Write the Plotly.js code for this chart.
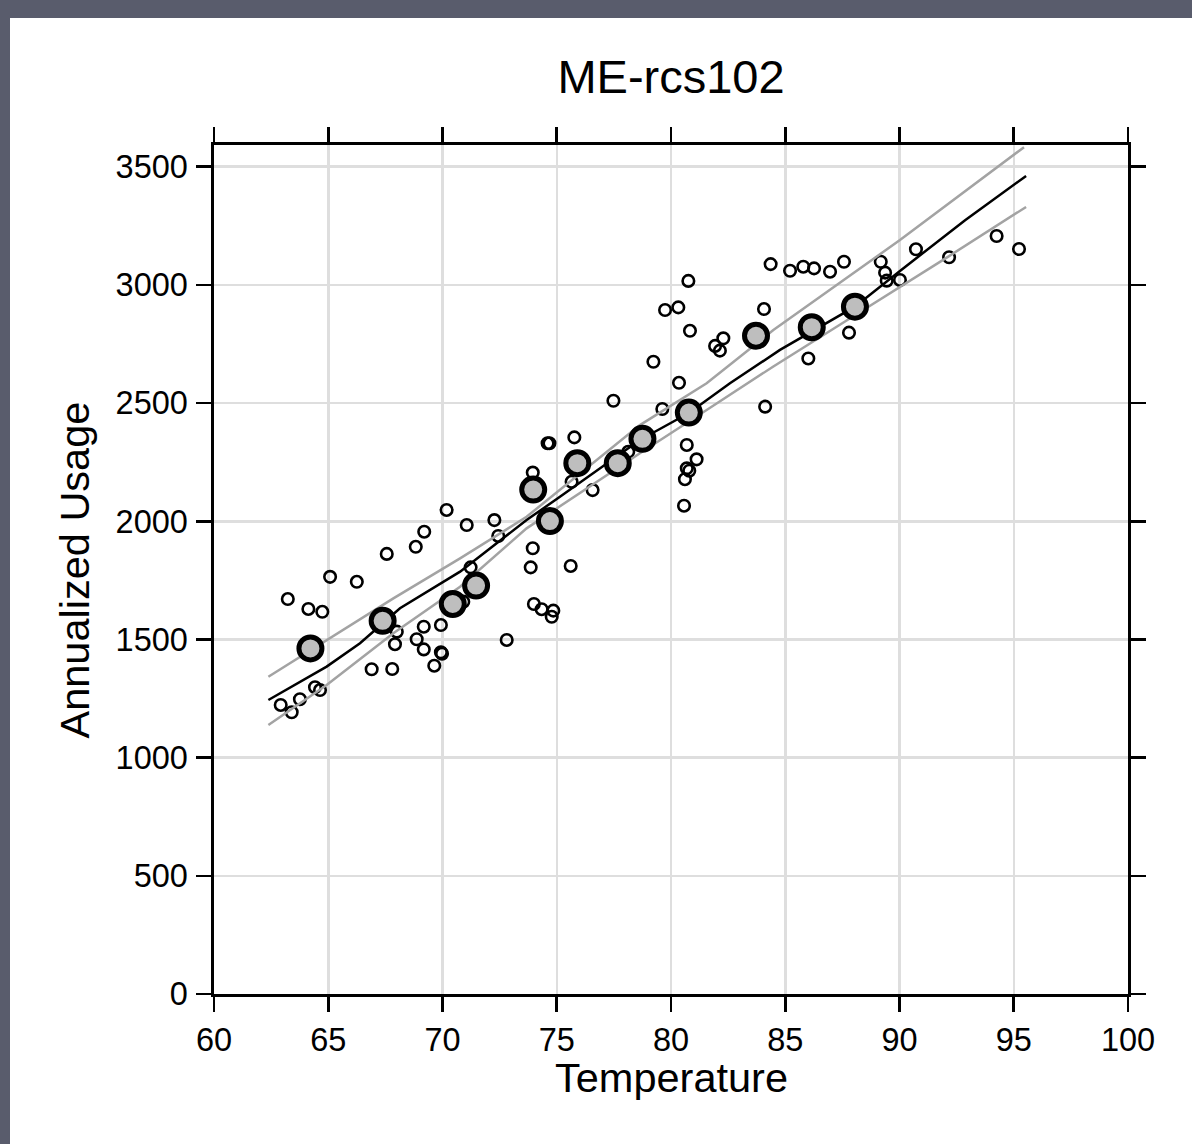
<!DOCTYPE html>
<html>
<head>
<meta charset="utf-8">
<script src="https://cdn.plot.ly/plotly-3.0.1.min.js"></script>
<style>
  html, body { margin: 0; padding: 0; background: #595c6c; width: 1192px; height: 1144px; overflow: hidden; }
  #chart { position: absolute; left: 10px; top: 18px; width: 1182px; height: 1126px; background: #ffffff; }
</style>
</head>
<body>
<div id="chart"></div>
<script>
// Observed (small open circles)
const obsTemp = [62.92, 63.40, 63.76, 64.42, 64.64, 63.23, 64.13, 64.74, 65.08, 66.25,
  67.56, 68.83, 69.20, 70.18, 71.06, 72.27, 72.44, 71.23, 70.91, 68.00,
  67.92, 66.90, 67.80, 69.18, 68.87, 69.18, 69.93, 69.93, 69.98, 69.64,
  72.81, 73.95, 73.86, 74.00, 74.34, 74.78, 74.85, 80.35, 77.48, 79.62,
  74.60, 74.68, 75.77, 78.13, 73.95, 75.65, 76.57, 75.61, 80.69, 81.12,
  80.69, 80.80, 80.61, 80.57, 80.76, 79.74, 80.32, 80.83, 81.93, 82.29,
  82.14, 79.23, 84.12, 84.07, 84.36, 85.21, 85.79, 86.26, 86.96, 87.57,
  89.18, 89.37, 89.44, 90.02, 90.72, 92.17, 94.25, 95.23, 87.79, 86.01];
const obsUsage = [1223, 1192, 1247, 1298, 1286, 1671, 1629, 1617, 1765, 1744,
  1862, 1892, 1956, 2048, 1984, 2005, 1938, 1805, 1660, 1533,
  1480, 1374, 1375, 1554, 1501, 1458, 1561, 1446, 1440, 1389,
  1498, 1886, 1805, 1650, 1628, 1596, 1622, 2586, 2510, 2475,
  2330, 2330, 2355, 2294, 2206, 2167, 2132, 1811, 2323, 2262,
  2224, 2214, 2178, 2066, 3017, 2894, 2905, 2806, 2742, 2774,
  2722, 2675, 2485, 2898, 3088, 3060, 3077, 3070, 3056, 3098,
  3098, 3052, 3018, 3021, 3151, 3117, 3207, 3152, 2798, 2689];

// Highlighted (large grey circles)
const keyTemp = [64.22, 67.38, 70.45, 71.47, 73.97, 74.70, 75.90, 77.67, 78.75, 80.78, 83.72, 86.16, 88.05];
const keyUsage = [1462, 1579, 1650, 1728, 2134, 2001, 2246, 2246, 2349, 2460, 2785, 2821, 2908];

// Fitted line
const fitTemp = [62.38, 64.93, 66.39, 68.14, 70.77, 73.68, 75.14, 78.64, 80.80, 82.58, 84.77, 88.05, 90.02, 92.87, 95.54];
const fitUsage = [1244, 1385, 1484, 1632, 1787, 2005, 2104, 2344, 2459, 2584, 2725, 2908, 3059, 3274, 3461];

// Upper band
const upTemp = [62.38, 64.93, 67.85, 70.77, 73.68, 78.64, 81.56, 84.48, 87.40, 90.02, 95.45];
const upUsage = [1342, 1498, 1674, 1843, 2019, 2407, 2584, 2809, 3008, 3190, 3583];

// Lower band
const loTemp = [62.38, 64.93, 67.85, 70.77, 73.68, 78.64, 81.56, 84.48, 87.79, 90.02, 92.17, 95.54];
const loUsage = [1138, 1307, 1526, 1723, 1970, 2288, 2471, 2655, 2856, 2991, 3122, 3330];

const xTicks = [60, 65, 70, 75, 80, 85, 90, 95, 100];
const yTicks = [0, 500, 1000, 1500, 2000, 2500, 3000, 3500];

const FONT = 'Liberation Sans, Arial, Helvetica, sans-serif';

const traces = [
  { x: obsTemp, y: obsUsage, type: 'scatter', mode: 'markers', hoverinfo: 'skip',
    marker: { symbol: 'circle-open', size: 11.5, color: '#000000', line: { width: 2.6, color: '#000000' } } },
  { x: upTemp, y: upUsage, type: 'scatter', mode: 'lines', line: { color: '#a3a3a3', width: 2.5 } },
  { x: loTemp, y: loUsage, type: 'scatter', mode: 'lines', line: { color: '#a3a3a3', width: 2.5 } },
  { x: fitTemp, y: fitUsage, type: 'scatter', mode: 'lines', line: { color: '#000000', width: 2.5 } },
  { x: keyTemp, y: keyUsage, type: 'scatter', mode: 'markers',
    marker: { symbol: 'circle', size: 23, color: '#bebebe', line: { width: 5, color: '#000000' } } }
];

const axisCommon = {
  showline: true, linecolor: '#000000', linewidth: 2.6, mirror: 'allticks',
  ticks: 'outside', ticklen: 15, tickwidth: 2.6, tickcolor: '#000000',
  showgrid: true, gridcolor: '#dedede', gridwidth: 2.5, zeroline: false,
  tickfont: { family: FONT, size: 32.5, color: '#000000' }
};

const layout = {
  width: 1182, height: 1126,
  margin: { l: 204, r: 64, t: 127, b: 150, pad: 0 },
  paper_bgcolor: '#ffffff', plot_bgcolor: '#ffffff',
  showlegend: false,
  font: { family: FONT, color: '#000000' },
  title: { text: 'ME-rcs102', font: { family: FONT, size: 47, color: '#000000' },
           x: 0.5, xref: 'paper', xanchor: 'center', y: 0.9476, yref: 'container', yanchor: 'middle' },
  xaxis: Object.assign({}, axisCommon, {
    range: [60, 100], tickvals: xTicks, ticktext: xTicks.map(String)
  }),
  yaxis: Object.assign({}, axisCommon, {
    range: [0, 3592], tickvals: yTicks, ticktext: yTicks.map(String), ticklabelstandoff: 2
  }),
  annotations: [
    { text: 'Temperature', xref: 'paper', yref: 'paper', x: 0.5, y: -0.0978,
      xanchor: 'center', yanchor: 'middle', showarrow: false,
      font: { family: FONT, size: 41.5, color: '#000000' } },
    { text: 'Annualized Usage', xref: 'paper', yref: 'paper', x: -0.1521, y: 0.5,
      xanchor: 'center', yanchor: 'middle', showarrow: false, textangle: -90,
      font: { family: FONT, size: 41.5, color: '#000000' } }
  ]
};

Plotly.newPlot('chart', traces, layout, { displayModeBar: false, staticPlot: true });
</script>
</body>
</html>
